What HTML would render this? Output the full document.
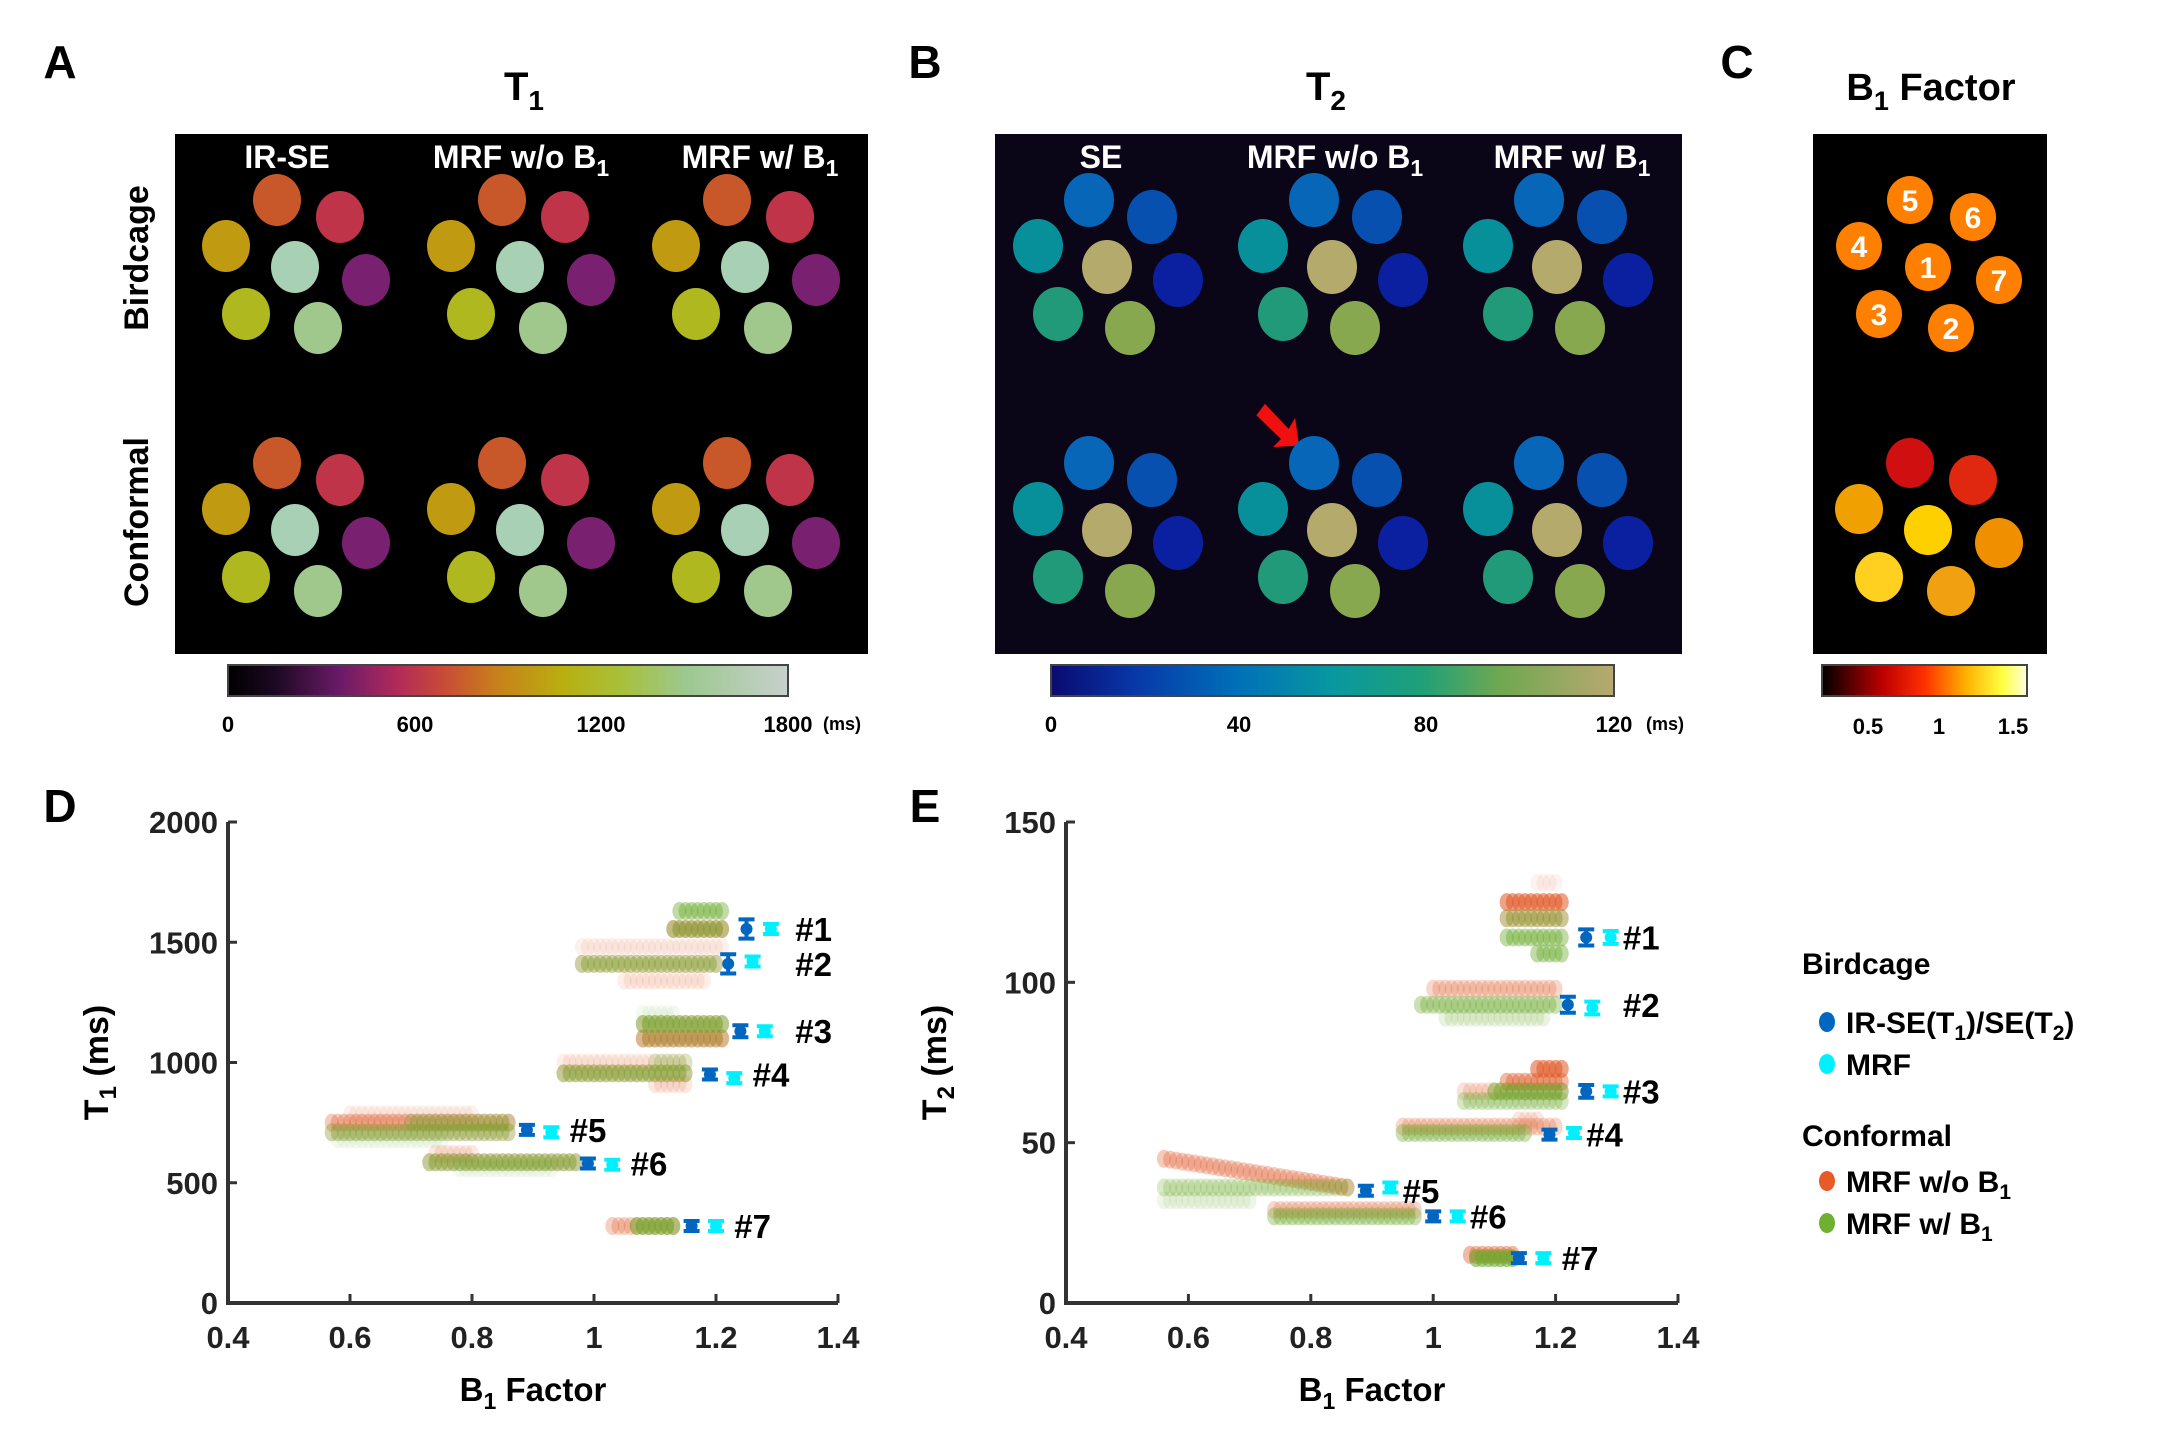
<!DOCTYPE html>
<html><head><meta charset="utf-8">
<style>
html,body{margin:0;padding:0;background:#fff;}
svg{display:block;}
text{font-family:"Liberation Sans Narrow","Liberation Sans",sans-serif;font-weight:bold;}
</style></head>
<body>
<svg id="fig" width="2182" height="1438" viewBox="0 0 2182 1438" xmlns="http://www.w3.org/2000/svg">
<defs>
<linearGradient id="gT1" x1="0" x2="1" y1="0" y2="0">
<stop offset="0" stop-color="#000"/><stop offset="0.08" stop-color="#1a0820"/><stop offset="0.2" stop-color="#6a1a68"/><stop offset="0.3" stop-color="#b02a5a"/><stop offset="0.38" stop-color="#c84838"/><stop offset="0.48" stop-color="#c8801a"/><stop offset="0.6" stop-color="#b8b010"/><stop offset="0.7" stop-color="#a8c038"/><stop offset="0.82" stop-color="#9cc890"/><stop offset="1" stop-color="#c8d0cc"/>
</linearGradient>
<linearGradient id="gT2" x1="0" x2="1" y1="0" y2="0">
<stop offset="0" stop-color="#0a0a70"/><stop offset="0.15" stop-color="#0838a8"/><stop offset="0.33" stop-color="#0070b8"/><stop offset="0.5" stop-color="#0898a0"/><stop offset="0.66" stop-color="#20a078"/><stop offset="0.8" stop-color="#70a850"/><stop offset="1" stop-color="#b8a870"/>
</linearGradient>
<linearGradient id="gB1" x1="0" x2="1" y1="0" y2="0">
<stop offset="0" stop-color="#000"/><stop offset="0.3" stop-color="#c00000"/><stop offset="0.5" stop-color="#ff3000"/><stop offset="0.7" stop-color="#ffb000"/><stop offset="0.88" stop-color="#ffff40"/><stop offset="1" stop-color="#ffffe0"/>
</linearGradient>
</defs>

<text x="60" y="78" font-size="46" text-anchor="middle">A</text>
<text x="925" y="78" font-size="46" text-anchor="middle">B</text>
<text x="1737" y="78" font-size="46" text-anchor="middle">C</text>
<text x="60" y="822" font-size="46" text-anchor="middle">D</text>
<text x="925" y="822" font-size="46" text-anchor="middle">E</text>
<text x="524" y="100" font-size="40" text-anchor="middle">T<tspan font-size="28" dy="10">1</tspan></text>
<text x="1326" y="100" font-size="40" text-anchor="middle">T<tspan font-size="28" dy="10">2</tspan></text>
<text x="1931" y="100" font-size="38" text-anchor="middle">B<tspan font-size="27" dy="10">1</tspan><tspan dy="-10"> Factor</tspan></text>

<rect x="175" y="134" width="693" height="520" fill="#000"/>
<rect x="995" y="134" width="687" height="520" fill="#0a0618"/>
<rect x="1813" y="134" width="234" height="520" fill="#000"/>

<text x="287" y="168" font-size="32" fill="#fff" text-anchor="middle">IR-SE</text>
<text x="521" y="168" font-size="32" fill="#fff" text-anchor="middle">MRF w/o B<tspan font-size="23" dy="8">1</tspan></text>
<text x="760" y="168" font-size="32" fill="#fff" text-anchor="middle">MRF w/ B<tspan font-size="23" dy="8">1</tspan></text>
<text x="1101" y="168" font-size="32" fill="#fff" text-anchor="middle">SE</text>
<text x="1335" y="168" font-size="32" fill="#fff" text-anchor="middle">MRF w/o B<tspan font-size="23" dy="8">1</tspan></text>
<text x="1572" y="168" font-size="32" fill="#fff" text-anchor="middle">MRF w/ B<tspan font-size="23" dy="8">1</tspan></text>
<text transform="translate(148,258) rotate(-90)" font-size="34" text-anchor="middle" font-family="Liberation Sans">Birdcage</text>
<text transform="translate(148,522) rotate(-90)" font-size="34" text-anchor="middle" font-family="Liberation Sans">Conformal</text>

<polygon points="1268,402 1288,430 1296,420 1296,448 1270,446 1279,439 1258,412" fill="#f01010" transform="rotate(-8 1280 425)"/>

<rect x="228" y="665" width="560" height="31" fill="url(#gT1)" stroke="#444" stroke-width="2"/>
<rect x="1051" y="665" width="563" height="31" fill="url(#gT2)" stroke="#444" stroke-width="2"/>
<rect x="1822" y="665" width="205" height="31" fill="url(#gB1)" stroke="#444" stroke-width="2"/>
<g font-size="22" text-anchor="middle">
<text x="228" y="732">0</text><text x="415" y="732">600</text><text x="601" y="732">1200</text><text x="788" y="732">1800</text><text x="842" y="730" font-size="18">(ms)</text>
<text x="1051" y="732">0</text><text x="1239" y="732">40</text><text x="1426" y="732">80</text><text x="1614" y="732">120</text><text x="1665" y="730" font-size="18">(ms)</text>
<text x="1868" y="734">0.5</text><text x="1939" y="734">1</text><text x="2013" y="734">1.5</text>
</g>

<g id="circles"></g>
<g id="plotD"></g>
<g id="plotE"></g>

<g font-size="30">
<text x="1802" y="974">Birdcage</text>
<ellipse cx="1827" cy="1022" rx="8" ry="10" fill="#0066c0"/>
<text x="1846" y="1033">IR-SE(T<tspan font-size="21" dy="7">1</tspan><tspan dy="-7">)/SE(T</tspan><tspan font-size="21" dy="7">2</tspan><tspan dy="-7">)</tspan></text>
<ellipse cx="1827" cy="1064" rx="8" ry="10" fill="#00f0ff"/>
<text x="1846" y="1075">MRF</text>
<text x="1802" y="1146">Conformal</text>
<ellipse cx="1827" cy="1181" rx="8" ry="10" fill="#e85a28"/>
<text x="1846" y="1192">MRF w/o B<tspan font-size="21" dy="7">1</tspan></text>
<ellipse cx="1827" cy="1223" rx="8" ry="10" fill="#70b030"/>
<text x="1846" y="1234">MRF w/ B<tspan font-size="21" dy="7">1</tspan></text>
</g>
</svg>
<script>
const phantomNums = [5,6,4,1,7,3,2];
const phantomCx = [277,340,226,295,366,246,318];
const phantomCy = [200,217,246,267,280,314,328];
const t1Colors = ['#c8582a','#c0344a','#c09a10','#a8d0b4','#7a2070','#b0b820','#a0c88c'];
const t2Colors = ['#0866b8','#0850b0','#08909a','#b4aa6c','#0a20a0','#209a78','#88a850'];
const b1TopColors = ['#ff8000','#ff8000','#ff8000','#ff8000','#ff8000','#ff8000','#ff8000'];
const b1BotColors = ['#d01010','#e02810','#f0a000','#ffd000','#f09000','#ffd020','#f0a010'];

const dWoRows = [[1555,1555,1.13,1.21,0.5],[1410,1410,0.98,1.2,0.25],[1480,1480,0.98,1.21,0.12],[1340,1340,1.05,1.18,0.15],[1100,1100,1.08,1.21,0.6],[1160,1160,1.08,1.21,0.3],[1000,1000,0.95,1.15,0.15],[955,955,0.95,1.15,0.3],[910,910,1.1,1.15,0.2],[750,750,0.57,0.86,0.45],[785,785,0.6,0.8,0.12],[710,710,0.57,0.86,0.2],[620,620,0.74,0.8,0.2],[585,585,0.73,0.97,0.3],[320,320,1.03,1.13,0.4]];
const dWRows = [[1630,1630,1.14,1.21,0.6],[1555,1555,1.13,1.21,0.5],[1410,1410,0.98,1.2,0.45],[1200,1200,1.08,1.13,0.1],[1160,1160,1.08,1.21,0.6],[1100,1100,1.08,1.21,0.25],[1000,1000,1.1,1.15,0.25],[955,955,0.95,1.15,0.5],[750,750,0.7,0.86,0.35],[710,710,0.57,0.86,0.4],[680,680,0.58,0.75,0.1],[585,585,0.73,0.97,0.5],[560,560,0.78,0.93,0.1],[320,320,1.07,1.13,0.7]];
const dRefX = [1.25,1.22,1.24,1.19,0.89,0.99,1.16];
const dRefY = [1555,1410,1130,950,720,580,320];
const dRefErr = [40,40,25,20,15,15,10];
const dMrfX = [1.29,1.26,1.28,1.23,0.93,1.03,1.2];
const dMrfY = [1555,1420,1130,935,710,575,320];
const dMrfErr = [15,15,15,15,10,10,10];
const dLabelX = [1.33,1.33,1.33,1.26,0.96,1.06,1.23];
const dYTicks = [0,500,1000,1500,2000];

const eWoRows = [[131,131,1.17,1.2,0.1],[125,125,1.12,1.21,0.8],[120,120,1.12,1.21,0.4],[98,98,1.0,1.2,0.35],[73,73,1.17,1.21,0.8],[69,69,1.12,1.21,0.6],[66,66,1.05,1.21,0.25],[55,55,0.95,1.2,0.35],[57,57,1.14,1.17,0.2],[45,36,0.56,0.86,0.45],[29,29,0.74,0.97,0.35],[15,15,1.06,1.13,0.6]];
const eWRows = [[120,120,1.12,1.21,0.4],[114,114,1.12,1.21,0.6],[109,109,1.17,1.21,0.6],[93,93,0.98,1.2,0.5],[89,89,1.02,1.18,0.2],[66,66,1.1,1.21,0.6],[63,63,1.05,1.21,0.4],[53,53,0.95,1.15,0.5],[36,36,0.56,0.86,0.35],[32,32,0.56,0.7,0.15],[27,27,0.74,0.97,0.5],[14,14,1.07,1.13,0.8]];
const eRefX = [1.25,1.22,1.25,1.19,0.89,1.0,1.14];
const eRefY = [114,93,66,52.5,35,27,14];
const eRefErr = [2.5,2.5,2,1.5,1,1,1];
const eMrfX = [1.29,1.26,1.29,1.23,0.93,1.04,1.18];
const eMrfY = [114,92,66,53,36,27,14];
const eMrfErr = [2,2,1.5,1.5,1,1,1];
const eLabelX = [1.31,1.31,1.31,1.25,0.95,1.06,1.21];
const eYTicks = [0,50,100,150];
const xTicks = [0.4,0.6,0.8,1,1.2,1.4];

const NS = 'http://www.w3.org/2000/svg';
function mk(tag, attrs, parent){
  const e = document.createElementNS(NS, tag);
  for (const k in attrs) e.setAttribute(k, attrs[k]);
  parent.appendChild(e);
  return e;
}

const cg = document.getElementById('circles');
function drawPhantoms(dx, dy, colors, rx, ry, nums){
  for (let i=0;i<phantomCx.length;i++){
    const c = mk('ellipse',{cx:phantomCx[i]+dx, cy:phantomCy[i]+dy, rx:rx, ry:ry, fill:colors[i]}, cg);
    
    
    if (nums){
      const t = mk('text',{x:phantomCx[i]+dx, y:phantomCy[i]+dy+11, 'font-size':30, fill:'#fff', 'text-anchor':'middle'}, cg);
      t.textContent = phantomNums[i];
      
      
    }
  }
}
[0,225,450].forEach(dx=>{ drawPhantoms(dx,0,t1Colors,24,26,false); drawPhantoms(dx,263,t1Colors,24,26,false); });
[812,1037,1262].forEach(dx=>{ drawPhantoms(dx,0,t2Colors,25,27,false); drawPhantoms(dx,263,t2Colors,25,27,false); });
drawPhantoms(1633,0,b1TopColors,23,24,true);
drawPhantoms(1633,263,b1BotColors,24,25,false);

function drawPlot(gid, x0, x1, y0, y1, yMax, yTicks, woRows, wRows, refX, refY, refErr, mrfX, mrfY, mrfErr, labelX, yTitle){
  const g = document.getElementById(gid);
  const sx = v => x0 + (v-0.4)/(1.0)*(x1-x0);
  const sy = v => y0 - v/yMax*(y0-y1);
  const ax = mk('path',{d:`M${x0},${y1} L${x0},${y0} L${x1},${y0}`, fill:'none', stroke:'#333', 'stroke-width':4}, g);
  
  
  xTicks.forEach(v=>{
    mk('line',{x1:sx(v),x2:sx(v),y1:y0,y2:y0-9,stroke:'#333','stroke-width':3},g);
    const t = mk('text',{x:sx(v), y:y0+45, 'font-size':31, 'text-anchor':'middle', fill:'#222'}, g);
    t.textContent = v;
    
    
  });
  yTicks.forEach(v=>{
    mk('line',{x1:x0,x2:x0+9,y1:sy(v),y2:sy(v),stroke:'#333','stroke-width':3},g);
    const t = mk('text',{x:x0-10, y:sy(v)+11, 'font-size':31, 'text-anchor':'end', fill:'#222'}, g);
    t.textContent = v;
    
    
  });
  const xt = mk('text',{x:(x0+x1)/2, y:y0+98, 'font-size':33, 'text-anchor':'middle'}, g);
  xt.innerHTML = 'B<tspan font-size="23" dy="8">1</tspan><tspan dy="-8"> Factor</tspan>';
  
  
  const yt = mk('text',{transform:`translate(${x0-120},${(y0+y1)/2}) rotate(-90)`, 'font-size':34, 'text-anchor':'middle', 'font-family':'Liberation Sans'}, g);
  yt.innerHTML = 'T<tspan font-size="24" dy="8">'+yTitle+'</tspan><tspan dy="-8"> (ms)</tspan>';
  
  
  function rows(arr, color, name){
    arr.forEach(r=>{
      const [ya, yb, xa, xb, a] = r;
      for (let v=xa; v<=xb+1e-9; v+=0.01){
        const f = (xb>xa)?(v-xa)/(xb-xa):0;
        const c = mk('ellipse',{cx:sx(v), cy:sy(ya+(yb-ya)*f), rx:7, ry:9, fill:color, 'fill-opacity':a*0.7}, g);
        
        
      }
    });
  }
  rows(woRows, '#e05a28', 'mrf-wo-b1-point');
  rows(wRows, '#6aaa2a', 'mrf-w-b1-point');
  function ebar(xs, ys, es, color, name){
    for (let i=0;i<xs.length;i++){
      const cx = sx(xs[i]), cy = sy(ys[i]), h = Math.max(5, Math.abs(sy(ys[i]+es[i])-cy));
      const p = mk('path',{d:`M${cx-8},${cy-h} H${cx+8} M${cx},${cy-h} V${cy+h} M${cx-8},${cy+h} H${cx+8}`, stroke:color, 'stroke-width':4, fill:'none'}, g);
      
      
      const d = mk('ellipse',{cx:cx, cy:cy, rx:6, ry:6, fill:color}, g);
      
      
    }
  }
  ebar(refX, refY, refErr, '#0066c0', 'reference');
  ebar(mrfX, mrfY, mrfErr, '#00f0ff', 'mrf-birdcage');
  for (let i=0;i<labelX.length;i++){
    const t = mk('text',{x:sx(labelX[i]), y:sy(refY[i])+12, 'font-size':33}, g);
    t.textContent = '#'+(i+1);
    
    
  }
}
drawPlot('plotD', 228, 838, 1303, 822, 2000, dYTicks, dWoRows, dWRows, dRefX, dRefY, dRefErr, dMrfX, dMrfY, dMrfErr, dLabelX, '1');
drawPlot('plotE', 1066, 1678, 1303, 822, 150, eYTicks, eWoRows, eWRows, eRefX, eRefY, eRefErr, eMrfX, eMrfY, eMrfErr, eLabelX, '2');
</script>
</body></html>
